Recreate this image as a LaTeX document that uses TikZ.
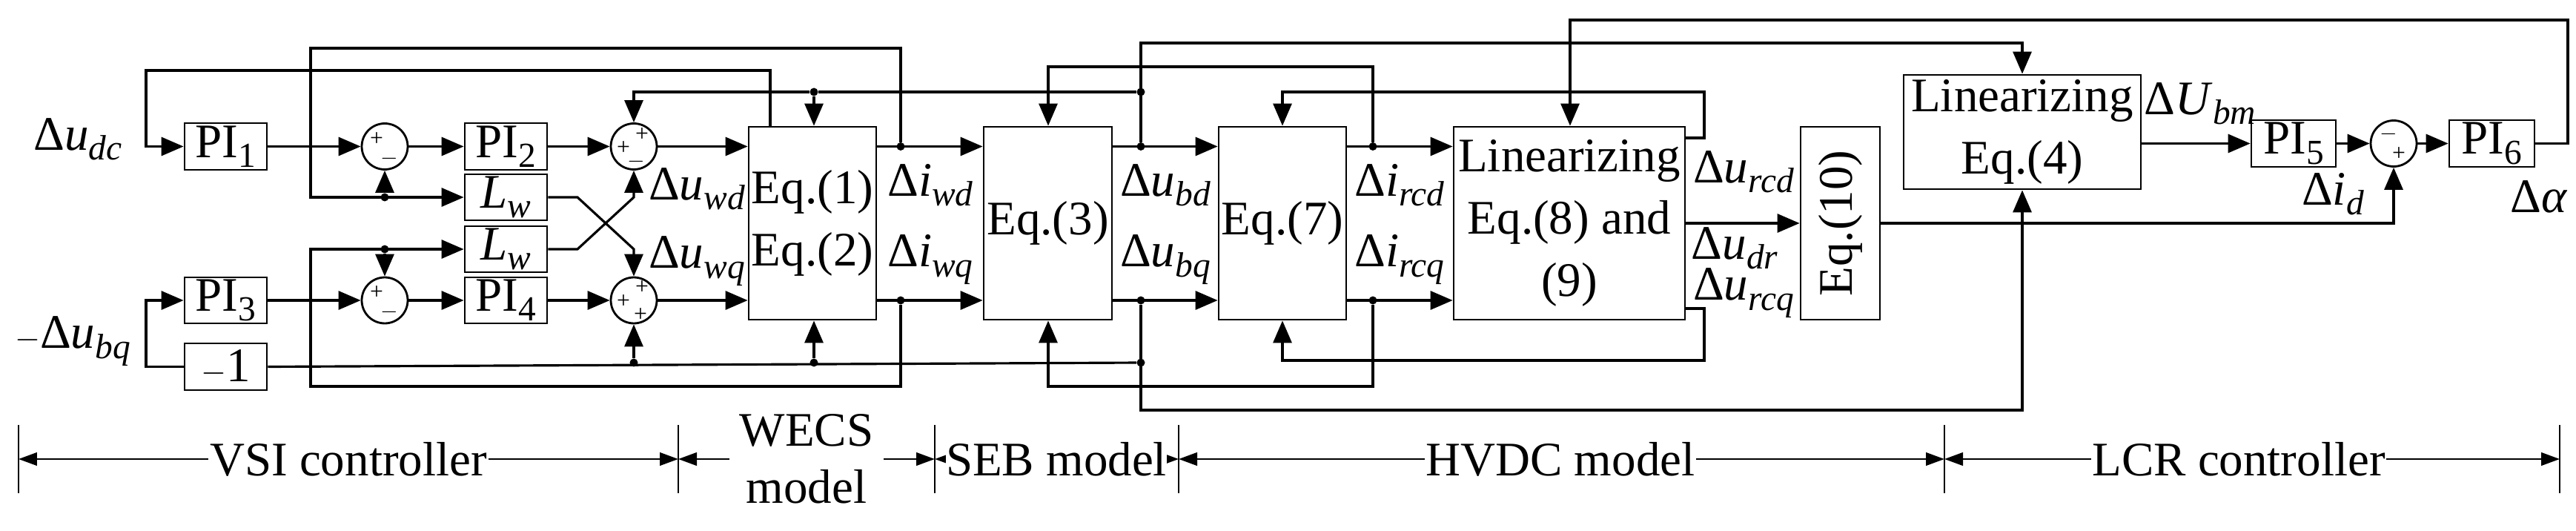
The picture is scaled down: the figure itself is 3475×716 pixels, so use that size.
\documentclass[tikz,border=0pt]{standalone}
\usepackage{fontspec}
\setmainfont{Liberation Serif}
\newfontfamily\tms{Liberation Serif}
\usetikzlibrary{arrows.meta}
\newcommand\sbi[1]{\raisebox{-0.45ex}{\fontsize{27}{27}\selectfont\textit{#1}}}
\newcommand\sbn[1]{\raisebox{-0.45ex}{\fontsize{27}{27}\selectfont #1}}
\begin{document}
\begin{tikzpicture}[x=0.02cm,y=-0.02cm,font=\tms\fontsize{37}{48}\selectfont]
\tikzset{ln/.style={line width=1.8pt},
 arr/.style={ln,-{Triangle[length=0.6cm,width=0.5cm]}},
 box/.style={draw,line width=1.6pt,inner sep=0,align=center},
 sm/.style={circle,draw,line width=1.6pt,minimum size=1.24cm,inner sep=0},
 dot/.style={circle,fill,inner sep=0,minimum size=0.22cm},
 sg/.style={font=\tms\fontsize{18}{18}\selectfont,inner sep=0},
 dim/.style={line width=1.6pt,{Triangle[length=0.5cm,width=0.35cm]}-{Triangle[length=0.5cm,width=0.35cm]}},
 lab/.style={inner sep=1pt}}
\useasboundingbox (0,0) rectangle (3475,716);
% boxes
\node[box,minimum width=2.22cm,minimum height=1.26cm] (PI1) at (304.5,197.5) {PI\sbn{1}};
\node[box,minimum width=2.22cm,minimum height=1.26cm] (PI2) at (682.5,197.5) {PI\sbn{2}};
\node[box,minimum width=2.22cm,minimum height=1.24cm] (Lw1) at (682.5,266) {\textit{L}\sbi{w}};
\node[box,minimum width=2.22cm,minimum height=1.24cm] (Lw2) at (682.5,336) {\textit{L}\sbi{w}};
\node[box,minimum width=2.22cm,minimum height=1.24cm] (PI3) at (304.5,405) {PI\sbn{3}};
\node[box,minimum width=2.22cm,minimum height=1.24cm] (PI4) at (682.5,405) {PI\sbn{4}};
\node[box,minimum width=2.22cm,minimum height=1.26cm] (M1) at (304.5,494.5) {$-$1};
\node[box,minimum width=3.44cm,minimum height=5.2cm] (E12) at (1096,301) {Eq.(1)\\Eq.(2)};
\node[box,minimum width=3.46cm,minimum height=5.2cm] (E3) at (1413.5,301) {Eq.(3)};
\node[box,minimum width=3.44cm,minimum height=5.2cm] (E7) at (1730,301) {Eq.(7)};
\node[box,minimum width=6.24cm,minimum height=5.2cm] (L89) at (2117,301) {Linearizing\\Eq.(8) and\\(9)};
\node[box,minimum width=2.14cm,minimum height=5.2cm] (E10) at (2482.5,301) {\rotatebox{90}{Eq.(10)}};
\node[box,minimum width=6.4cm,minimum height=3.08cm] (L4) at (2728,178) {Linearizing\\Eq.(4)};
\node[box,minimum width=2.28cm,minimum height=1.26cm] (PI5) at (3094,193.5) {PI\sbn{5}};
\node[box,minimum width=2.3cm,minimum height=1.26cm] (PI6) at (3361.5,193.5) {PI\sbn{6}};
% sums
\node[sm] (s1) at (519,197.5) {}; \node[sg] at (508,188) {+}; \node[sg] at (525,214) {$-$};
\node[sm] (s2) at (855,197.5) {}; \node[sg] at (841,200) {+}; \node[sg] at (866,182) {+}; \node[sg] at (858,218) {$-$};
\node[sm] (s3) at (519,405) {}; \node[sg] at (508,395) {+}; \node[sg] at (525,421) {$-$};
\node[sm] (s4) at (855,405) {}; \node[sg] at (841,407) {+}; \node[sg] at (866,388) {+}; \node[sg] at (864,425) {+};
\node[sm] (s5) at (3229,193.5) {}; \node[sg] at (3222,181) {$-$}; \node[sg] at (3236,208) {+};
% dots
\node[dot] (d1) at (519,266) {}; \node[dot] (d2) at (519,336) {};
\node[dot] (d3) at (1098,124) {}; \node[dot] (d4) at (855,489) {}; \node[dot] (d5) at (1098,489) {};
\node[dot] (d6) at (1215,197.5) {}; \node[dot] (d7) at (1215,405) {};
\node[dot] (d8) at (1539,197.5) {}; \node[dot] (d9) at (1539,405) {};
\node[dot] (d10) at (1852,197.5) {}; \node[dot] (d11) at (1852,405) {};
\node[dot] (d12) at (1539,124) {}; \node[dot] (d13) at (1539,489) {};
\coordinate (cA) at (197,197.5); \coordinate (cB) at (197,405);
% VSI forward path
\draw[arr] (PI1) -- (s1); \draw[arr] (s1) -- (PI2); \draw[arr] (PI2) -- (s2); \draw[arr] (s2) -- (E12.west |- s2);
\draw[arr] (PI3) -- (s3); \draw[arr] (s3) -- (PI4); \draw[arr] (PI4) -- (s4); \draw[arr] (s4) -- (E12.west |- s4);
\draw[arr] (1039,171) -- (1039,95) -| (cA) -- (PI1);
\draw[arr] (M1.west) -| (cB) -- (PI3);
\draw[ln] (M1.east) -- (d13);
\draw[arr] (d4) -- (s4); \draw[arr] (d5) -- (E12.south -| d5);
\draw[arr] (d12) -- (d3) -- (855,124) -- (s2); \draw[arr] (d3) -- (E12.north -| d3);
\draw[arr] (d6) |- (419,65) |- (Lw1); \draw[arr] (d1) -- (s1);
\draw[arr] (d7) |- (419,521) |- (Lw2); \draw[arr] (d2) -- (s3);
\draw[arr] (Lw1) -- (779,266) -- (855,336) -- (s4);
\draw[arr] (Lw2) -- (779,336) -- (855,266) -- (s2);
% models
\draw[arr] (E12.east |- d6) -- (E3.west |- d6); \draw[arr] (E12.east |- d7) -- (E3.west |- d7);
\draw[arr] (E3.east |- d8) -- (E7.west |- d8); \draw[arr] (E3.east |- d9) -- (E7.west |- d9);
\draw[arr] (E7.east |- d10) -- (L89.west |- d10); \draw[arr] (E7.east |- d11) -- (L89.west |- d11);
\draw[arr] (d8) |- (2728,58) -- (L4.north);
\draw[arr] (d9) |- (2728,553) -- (L4.south);
\draw[arr] (d10) |- (1414,90) -- (E3.north -| 1414,0);
\draw[arr] (d11) |- (1414,521) -- (E3.south -| 1414,0);
\draw[arr] (L89.east |- 0,186) -- (2299,186) |- (1730,124) -- (E7.north);
\draw[arr] (L89.east |- 0,416) -- (2299,416) |- (1730,486) -- (E7.south);
\draw[arr] (L89.east |- 0,301) -- (E10.west |- 0,301);
\draw[arr] (E10.east |- 0,301) -| (s5.south);
% LCR
\draw[arr] (L4.east |- s5) -- (PI5); \draw[arr] (PI5) -- (s5); \draw[arr] (s5) -- (PI6);
\draw[arr] (PI6.east) -- (3464,193.5) |- (2118,27) -- (L89.north -| 2118,0);
% labels
\node[lab] at (105,188) {Δ\textit{u}\sbi{dc}};
\node[lab] at (98,460) {$-$Δ\textit{u}\sbi{bq}};
\node[lab] at (940,255) {Δ\textit{u}\sbi{wd}};
\node[lab] at (940,352) {Δ\textit{u}\sbi{wq}};
\node[lab] at (1255,250) {Δ\textit{i}\sbi{wd}};
\node[lab] at (1255,350) {Δ\textit{i}\sbi{wq}};
\node[lab] at (1572,250) {Δ\textit{u}\sbi{bd}};
\node[lab] at (1572,350) {Δ\textit{u}\sbi{bq}};
\node[lab] at (1888,250) {Δ\textit{i}\sbi{rcd}};
\node[lab] at (1888,350) {Δ\textit{i}\sbi{rcq}};
\node[lab] at (2352,232) {Δ\textit{u}\sbi{rcd}};
\node[lab] at (2340,335) {Δ\textit{u}\sbi{dr}};
\node[lab] at (2352,395) {Δ\textit{u}\sbi{rcq}};
\node[lab] at (2968,140) {Δ\textit{U}\sbi{bm}};
\node[lab] at (3147,262) {Δ\textit{i}\sbi{d}};
\node[lab] at (3425,265) {Δ\textit{α}};
% dimension lines
\foreach \x/\n in {25/t1,915/t2,1261/t3,1590/t4,2623/t5,3453/t6}
  {\draw[line width=1.6pt] (\x,573) -- (\x,665); \coordinate (\n) at (\x,619);}
\draw[dim] (t1) -- (t2); \node[fill=white,inner sep=1pt] at (470,619) {VSI controller};
\draw[dim] (t2) -- (t3); \node[fill=white,align=center,inner xsep=8pt,inner ysep=0,font=\tms\fontsize{37}{44}\selectfont] at (1088,619) {WECS\\model};
\draw[dim] (t3) -- (t4); \node[fill=white,inner sep=0pt] at (1425,619) {SEB model};
\draw[dim] (t4) -- (t5); \node[fill=white,inner sep=1pt] at (2105,619) {HVDC model};
\draw[dim] (t5) -- (t6); \node[fill=white,inner sep=1pt] at (3020,619) {LCR controller};
\end{tikzpicture}
\end{document}
